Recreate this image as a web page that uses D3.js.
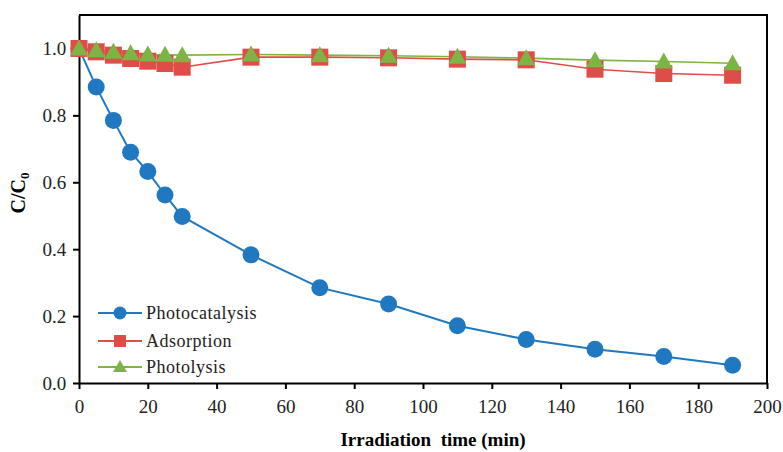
<!DOCTYPE html>
<html><head><meta charset="utf-8">
<script src="https://cdn.jsdelivr.net/npm/d3@7"></script>
<style>body{margin:0;background:#fff}svg{display:block}svg text{font-family:"Liberation Serif","Times New Roman","DejaVu Serif",serif}</style>
</head><body>
<svg id="c" width="783" height="452"></svg>
<script>
const times = [0,5,10,15,20,25,30,50,70,90,110,130,150,170,190];
const photocatalysis = [1.0,0.885,0.785,0.69,0.632,0.562,0.498,0.383,0.285,0.236,0.171,0.13,0.101,0.079,0.053];
const adsorption = [1.0,0.99,0.98,0.97,0.962,0.955,0.944,0.974,0.974,0.972,0.968,0.966,0.938,0.925,0.92];
const photolysis = [1.0,0.995,0.99,0.986,0.982,0.981,0.98,0.982,0.98,0.978,0.975,0.971,0.965,0.961,0.956];
const xTicks = [0,20,40,60,80,100,120,140,160,180,200];
const yTicks = [0,0.2,0.4,0.6,0.8,1.0];
const seriesNames = ["Photocatalysis","Adsorption","Photolysis"];
const colors = ["#2079c0","#df4d48","#7db443"];

const svg = d3.select("#c");
const L=79, R=767, T=15, B=383;
const x = d3.scaleLinear().domain([0,200]).range([L,R]);
const y = d3.scaleLinear().domain([0,1.1]).range([B,T]);
const font = '"Liberation Serif","Times New Roman","DejaVu Serif",serif';

svg.append("path").attr("d",`M${L},${T}H${R}V${B}`).attr("fill","none").attr("stroke","#000").attr("stroke-width",2);

const xa = svg.append("g").attr("transform",`translate(0,${B})`)
  .call(d3.axisBottom(x).tickValues(xTicks).tickSize(6).tickSizeOuter(0).tickFormat(d3.format("d")));
const ya = svg.append("g").attr("transform",`translate(${L},0)`)
  .call(d3.axisLeft(y).tickValues(yTicks).tickSize(6).tickSizeOuter(0).tickFormat(d3.format(".1f")));
[xa,ya].forEach(a=>{
  a.attr("font-family",null);
  a.selectAll("path,line").attr("stroke","#000").attr("stroke-width",2);
  a.selectAll("text").style("font-family",font).attr("font-size",19).attr("fill","#222");
});
xa.selectAll("text").attr("dy","1.1em");
ya.selectAll("text").attr("dx","-0.2em");

svg.append("text").attr("x",433).attr("y",446).attr("text-anchor","middle")
  .style("font-family",font).attr("font-size",19).attr("font-weight","bold")
  .style("white-space","pre").text("Irradiation  time (min)");
const yl = svg.append("text").attr("transform","translate(25,193) rotate(-90)").attr("text-anchor","middle")
  .style("font-family",font).attr("font-size",20).attr("font-weight","bold");
yl.append("tspan").text("C/C");
yl.append("tspan").attr("font-size",13).attr("dy",4).text("0");

const data = [photocatalysis, adsorption, photolysis];
const line = d3.line().x((d,i)=>x(times[i])).y(d=>y(d));
const widths=[2,1.6,1.6];

function marker(g, k, cx, cy){
  if(k===0) g.append("circle").attr("cx",cx).attr("cy",cy).attr("r",8.5).attr("fill",colors[0]);
  else if(k===1) g.append("rect").attr("x",cx-8.5).attr("y",cy-8.5).attr("width",17).attr("height",17).attr("fill",colors[1]);
  else g.append("path").attr("d",`M${cx},${cy-9}L${cx+9},${cy+7}L${cx-9},${cy+7}Z`).attr("fill",colors[2]);
}

[0,1,2].forEach(k=>{
  svg.append("path").datum(data[k]).attr("d",line).attr("fill","none").attr("stroke",colors[k]).attr("stroke-width",widths[k]);
});
[0,1,2].forEach(k=>{
  const g = svg.append("g");
  data[k].forEach((v,i)=>marker(g,k,x(times[i]),y(v)));
});

const ly=[313,341,367];
seriesNames.forEach((n,k)=>{
  const g = svg.append("g");
  g.append("line").attr("x1",98).attr("x2",142).attr("y1",ly[k]).attr("y2",ly[k]).attr("stroke",colors[k]).attr("stroke-width",2);
  if(k===0) g.append("circle").attr("cx",120).attr("cy",ly[k]).attr("r",6.5).attr("fill",colors[0]);
  else if(k===1) g.append("rect").attr("x",114).attr("y",ly[k]-6).attr("width",12).attr("height",12).attr("fill",colors[1]);
  else g.append("path").attr("d",`M120,${ly[k]-7}L127,${ly[k]+5}L113,${ly[k]+5}Z`).attr("fill",colors[2]);
  g.append("text").attr("x",146).attr("y",ly[k]+6).style("font-family",font).attr("font-size",18).attr("fill","#222")
    .style("letter-spacing","0.5px").text(n);
});
</script>
</body></html>
